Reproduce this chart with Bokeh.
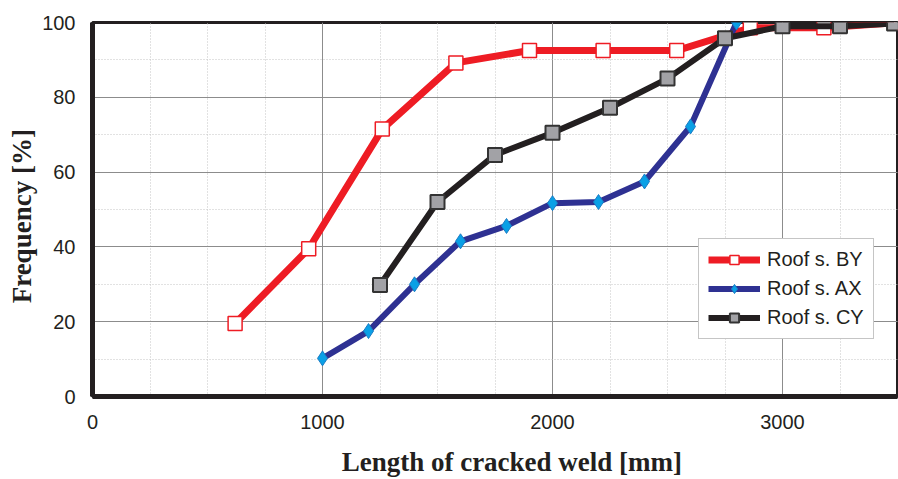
from bokeh.plotting import figure
from bokeh.models import SingleIntervalTicker, Legend, LegendItem, Range1d
from bokeh.embed import file_html
from bokeh.resources import INLINE

# Data
by_x = [620, 940, 1260, 1580, 1900, 2220, 2540, 2860, 3180, 3490]
by_y = [19.5, 39.5, 71.5, 89.2, 92.5, 92.5, 92.5, 98.6, 98.6, 99.9]
ax_x = [1000, 1200, 1400, 1600, 1800, 2000, 2200, 2400, 2600, 2800]
ax_y = [10.2, 17.5, 30.0, 41.5, 45.6, 51.7, 52.0, 57.5, 72.2, 100.0]
cy_x = [1250, 1500, 1750, 2000, 2250, 2500, 2750, 3000, 3250, 3485]
cy_y = [29.8, 52.0, 64.6, 70.5, 77.2, 85.0, 95.8, 99.0, 99.0, 99.7]
labels = ["Roof s. BY", "Roof s. AX", "Roof s. CY"]
NB = "\u00a0"
x_title = NB * 5 + "Length of cracked weld [mm]"
y_title = "Frequency [%]" + NB * 2

RED = "#ee1c24"
BLUE = "#2e3192"
BLACK = "#231f20"

p = figure(width=898, height=479, x_range=Range1d(0, 3500), y_range=Range1d(0, 100),
           output_backend="svg", toolbar_location=None,
           min_border_left=92, min_border_right=1, min_border_top=22, min_border_bottom=83)
p.background_fill_color = "white"
p.border_fill_color = "white"
p.outline_line_color = BLACK
p.outline_line_width = 3

p.xaxis.ticker = SingleIntervalTicker(interval=1000, num_minor_ticks=4)
p.yaxis.ticker = SingleIntervalTicker(interval=20, num_minor_ticks=2)

for ax in (p.xaxis, p.yaxis):
    ax.axis_line_color = BLACK
    ax.axis_line_width = 5
    ax.major_tick_line_color = None
    ax.minor_tick_line_color = None
    ax.major_label_text_font = "Liberation Sans"
    ax.major_label_text_font_size = "20px"
    ax.major_label_text_color = BLACK
    ax.axis_label_text_font = "Liberation Serif"
    ax.axis_label_text_font_style = "bold"
    ax.axis_label_text_font_size = "27px"
    ax.axis_label_text_color = BLACK

p.xaxis.axis_label = x_title
p.yaxis.axis_label = y_title
p.xaxis.major_label_standoff = 12
p.yaxis.major_label_standoff = 11
p.xaxis.axis_label_standoff = 15
p.yaxis.axis_label_standoff = 2

for g in (p.xgrid, p.ygrid):
    g.grid_line_color = "#8c8c8c"
    g.grid_line_width = 1
    g.minor_grid_line_color = "#c4c4c4"
    g.minor_grid_line_dash = "1 2"
    g.minor_grid_line_width = 1

r_by_l = p.line(by_x, by_y, line_color=RED, line_width=7)
r_by_m = p.scatter(by_x, by_y, marker="square", size=14, fill_color="white",
                   line_color=RED, line_width=1.5)
r_ax_l = p.line(ax_x, ax_y, line_color=BLUE, line_width=6)
r_ax_m = p.scatter(ax_x, ax_y, marker="diamond", size=15, fill_color="#0aa0e6",
                   line_color="#1c7cc4", line_width=1)
r_cy_l = p.line(cy_x, cy_y, line_color=BLACK, line_width=6)
r_cy_m = p.scatter(cy_x, cy_y, marker="square", size=14, fill_color="#a2a2a6",
                   line_color="#333333", line_width=2)

legend = Legend(items=[
    LegendItem(label=labels[0], renderers=[r_by_l, r_by_m]),
    LegendItem(label=labels[1], renderers=[r_ax_l, r_ax_m]),
    LegendItem(label=labels[2], renderers=[r_cy_l, r_cy_m]),
], location=(606, 57))
legend.border_line_color = "#8c8c8c"
legend.border_line_width = 1
legend.background_fill_color = "white"
legend.background_fill_alpha = 1
legend.label_text_font = "Liberation Sans"
legend.label_text_font_size = "20px"
legend.label_text_color = BLACK
legend.glyph_width = 52
legend.glyph_height = 23
legend.label_height = 23
legend.label_standoff = 7
legend.spacing = 6
legend.padding = 9
legend.margin = 0
p.add_layout(legend, "center")

open("out.html", "w").write(file_html(p, INLINE))
